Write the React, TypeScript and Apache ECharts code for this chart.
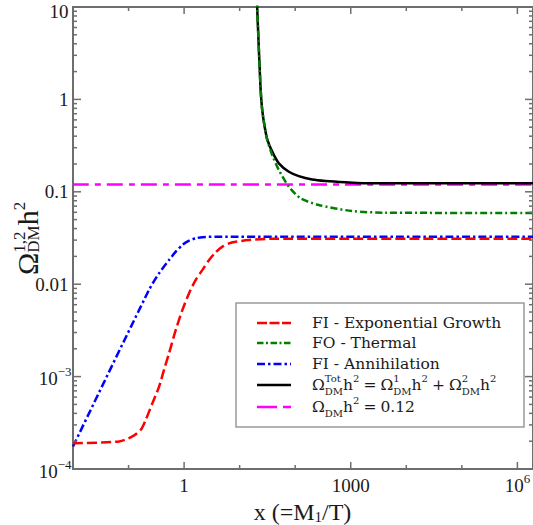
import React, { useEffect, useRef } from "react";
import * as echarts from "echarts";

// ---------------- data ----------------
const redX = [0.01, 0.0678, 0.1175, 0.166, 0.204, 0.269, 0.355, 0.436, 0.537, 0.708, 0.933, 1.23, 1.62, 2.14, 2.82, 3.72, 4.9, 6.44, 8.5, 14.7, 33.9, 2e6];
const redY = [1.9e-4, 1.99e-4, 2.25e-4, 2.66e-4, 3.41e-4, 5.16e-4, 7.8e-4, 1.19e-3, 1.8e-3, 3.2e-3, 5.27e-3, 8.0e-3, 0.01114, 0.0143, 0.0183, 0.0222, 0.0255, 0.0277, 0.0288, 0.0301, 0.031, 0.031];

const blueX = [0.01, 0.234, 0.355, 0.537, 0.708, 0.933, 1.23, 1.62, 2.14, 3.72, 2e6];
const blueY = [1.75e-4, 8.7e-3, 0.01315, 0.0183, 0.0225, 0.0266, 0.0296, 0.0314, 0.0322, 0.0327, 0.0327];

const greenX = [20.3, 20.7, 21.6, 22.2, 22.9, 23.9, 25.5, 28.2, 31.4, 38.6, 50.8, 76.9, 124.7, 266, 1054, 4190, 2e6];
const greenY = [25, 10, 5.18, 3.41, 2.25, 1.26, 0.766, 0.506, 0.363, 0.25, 0.172, 0.1135, 0.085, 0.0719, 0.0619, 0.0594, 0.059];

const blackX = [20.3, 20.7, 21.6, 22.2, 22.9, 23.9, 25.5, 28.2, 31.4, 38.6, 50.8, 76.9, 116, 202, 351, 802, 2415, 2e6];
const blackY = [25, 10, 5.18, 3.41, 2.25, 1.26, 0.766, 0.506, 0.37, 0.272, 0.203, 0.165, 0.148, 0.136, 0.131, 0.127, 0.1236, 0.1236];

const refX = [0.01, 2e6];
const refY = [0.12, 0.12];

const xMin = 0.01;
const xMax = 1.91e6;
const yMin = 1e-4;
const yMax = 10;

const xMajorTicks = [1, 1000, 1e6];
const xMinorTicks = [0.01, 0.1, 10, 100, 1e4, 1e5];
const yMajorTicks = [1e-4, 1e-3, 0.01, 0.1, 1, 10];
const yMinorMantissas = [2, 3, 4, 5, 6, 7, 8, 9];

const xTickValues = [1, 1000, 1e6];
const xTickMain = ["1", "1000", "10"];
const xTickSup = ["", "", "6"];
const yTickValues = [1e-4, 1e-3, 0.01, 0.1, 1, 10];
const yTickMain = ["10", "10", "0.01", "0.1", "1", "10"];
const yTickSup = ["\u22124", "\u22123", "", "", "", ""];

const legendNames = ["FI - Exponential Growth", "FO - Thermal", "FI - Annihilation"];

// ---------------- helpers ----------------
const LIB = '"Liberation Serif"';
const DJV = '"DejaVu Serif"';
const AXIS_COLOR = "#6e6e6e";
const TEXT_COLOR = "#1a1a1a";

let measureCtx: CanvasRenderingContext2D | null = null;
function tw(text: string, size: number, fam: string): number {
  if (!measureCtx) measureCtx = document.createElement("canvas").getContext("2d");
  if (!measureCtx) return text.length * size * 0.5;
  measureCtx.font = `${size}px ${fam}`;
  return measureCtx.measureText(text).width;
}

type Tok = { m?: string; sub?: string; sup?: string; gap?: number };
type Item = { text: string; lx: number; ly: number; size: number };
function mathItems(tokens: Tok[], o: { M: number; S: number; fam: string; subOff: number; supOff: number }) {
  let x = 0;
  const items: Item[] = [];
  for (const t of tokens) {
    if (t.gap) {
      x += t.gap;
      continue;
    }
    if (t.m) {
      items.push({ text: t.m, lx: x, ly: 0, size: o.M });
      x += tw(t.m, o.M, o.fam);
      continue;
    }
    let w = 0;
    if (t.sub) {
      items.push({ text: t.sub, lx: x, ly: o.subOff, size: o.S });
      w = Math.max(w, tw(t.sub, o.S, o.fam));
    }
    if (t.sup) {
      items.push({ text: t.sup, lx: x, ly: o.supOff, size: o.S });
      w = Math.max(w, tw(t.sup, o.S, o.fam));
    }
    x += w;
  }
  return { items, width: x };
}

function placeItems(items: Item[], X0: number, Y0: number, fam: string, rotated: boolean, z = 50) {
  return items.map((it) => ({
    type: "text",
    z,
    silent: true,
    x: rotated ? X0 + it.ly : X0 + it.lx,
    y: rotated ? Y0 - it.lx : Y0 + it.ly,
    rotation: rotated ? Math.PI / 2 : 0,
    style: { text: it.text, fontSize: it.size, fontFamily: fam, fill: TEXT_COLOR, align: "left", verticalAlign: "middle" },
  }));
}

const pts = (xs: number[], ys: number[]) => xs.map((x, i) => [x, ys[i]]);

export default function App() {
  const ref = useRef<HTMLDivElement>(null);

  useEffect(() => {
    if (!ref.current) return;
    const chart = echarts.init(ref.current, null, { renderer: "svg" });

    // tick items: [x, y, kind]  kind 0 x-major, 1 x-minor, 2 y-major, 3 y-minor
    const yMinorTicks: number[] = [];
    yMajorTicks.slice(0, -1).forEach((d) => yMinorMantissas.forEach((m) => yMinorTicks.push(d * m)));
    const tickData = [
      ...xMajorTicks.map((v) => [v, 1, 0]),
      ...xMinorTicks.map((v) => [v, 1, 1]),
      ...yMajorTicks.map((v) => [1, v, 2]),
      ...yMinorTicks.map((v) => [1, v, 3]),
    ];

    const labelDefs = [
      ...xTickValues.map((v, i) => ({ axis: "x", main: xTickMain[i], sup: xTickSup[i], pt: [v, 1] })),
      ...yTickValues.map((v, i) => ({ axis: "y", main: yTickMain[i], sup: yTickSup[i], pt: [1, v] })),
    ];

    const lineSeries = (name: string, xs: number[], ys: number[], color: string, dash: any, z: number) => ({
      name,
      type: "line",
      data: pts(xs, ys),
      showSymbol: false,
      symbol: "none",
      smooth: 0.25,
      silent: true,
      z,
      lineStyle: { color, width: 2.5, type: dash, cap: "butt" },
    });

    // ---- legend (graphic) ----
    const legX = 236;
    const legY = 303;
    const legW = 288;
    const legH = 124;
    const rowY = [323, 343, 364, 385, 407];
    const lineX1 = 257;
    const lineX2 = 291;
    const textX = 312;
    const legColors = ["#ff0000", "#008000", "#0000ff", "#000000", "#ff00ff"];
    const legDash: any[] = [[10, 2.5], [6.5, 2.5, 2, 2.5], [8, 3, 2.5, 3], null, [20, 6, 8, 6]];
    const LM = 15.5;
    const legendEls: any[] = [
      {
        type: "rect",
        z: 40,
        shape: { x: legX, y: legY, width: legW, height: legH },
        style: { fill: "#ffffff", stroke: "#9a9a9a", lineWidth: 1.5 },
        silent: true,
      },
    ];
    rowY.forEach((y, i) => {
      legendEls.push({
        type: "line",
        z: 50,
        shape: { x1: lineX1, y1: y, x2: lineX2, y2: y },
        style: { stroke: legColors[i], lineWidth: 2.5, lineDash: legDash[i] || undefined },
        silent: true,
      });
    });
    legendNames.forEach((n, i) => {
      legendEls.push({
        type: "text",
        z: 50,
        x: textX,
        y: rowY[i],
        silent: true,
        style: { text: n, fontSize: LM, fontFamily: DJV, fill: TEXT_COLOR, align: "left", verticalAlign: "middle" },
      });
    });
    const legMathOpts = { M: LM, S: 10, fam: DJV, subOff: 6, supOff: -6.5 };
    const totRow = mathItems(
      [
        { m: "\u03A9" }, { sup: "Tot", sub: "DM" }, { m: "h" }, { sup: "2" },
        { gap: 4 }, { m: "=" }, { gap: 4 },
        { m: "\u03A9" }, { sup: "1", sub: "DM" }, { m: "h" }, { sup: "2" },
        { gap: 4 }, { m: "+" }, { gap: 4 },
        { m: "\u03A9" }, { sup: "2", sub: "DM" }, { m: "h" }, { sup: "2" },
      ],
      legMathOpts
    );
    legendEls.push(...placeItems(totRow.items, textX, rowY[3], DJV, false));
    const obsRow = mathItems(
      [{ m: "\u03A9" }, { sub: "DM" }, { m: "h" }, { sup: "2" }, { gap: 4 }, { m: "=" }, { gap: 4 }, { m: "0.12" }],
      legMathOpts
    );
    legendEls.push(...placeItems(obsRow.items, textX, rowY[4], DJV, false));

    // ---- axis titles ----
    const xTitle = mathItems(
      [{ m: "x" }, { gap: 6 }, { m: "(=M" }, { sub: "1" }, { m: "/T)" }],
      { M: 24, S: 15, fam: LIB, subOff: 5, supOff: -8 }
    );
    const yTitle = mathItems(
      [{ m: "\u03A9" }, { sup: "1,2", sub: "DM" }, { m: "h" }, { sup: "2" }],
      { M: 30, S: 17, fam: LIB, subOff: 6.5, supOff: -8 }
    );
    const titleEls = [
      ...placeItems(xTitle.items, 302.5 - xTitle.width / 2, 512, LIB, false),
      ...placeItems(yTitle.items, 27, 275, LIB, true),
    ];

    const option: any = {
      animation: false,
      backgroundColor: "#ffffff",
      grid: {
        left: 73,
        top: 7,
        width: 461,
        height: 462,
        show: true,
        borderColor: AXIS_COLOR,
        borderWidth: 2,
        backgroundColor: "transparent",
      },
      xAxis: {
        type: "log",
        logBase: 10,
        min: xMin,
        max: xMax,
        axisLine: { show: false },
        axisTick: { show: false },
        axisLabel: { show: false },
        splitLine: { show: false },
      },
      yAxis: {
        type: "log",
        logBase: 10,
        min: yMin,
        max: yMax,
        axisLine: { show: false },
        axisTick: { show: false },
        axisLabel: { show: false },
        splitLine: { show: false },
      },
      series: [
        lineSeries("\u03A9_DM h\u00B2 = 0.12", refX, refY, "#ff00ff", [16, 6, 6, 6], 2),
        lineSeries("\u03A9^Tot_DM h\u00B2", blackX, blackY, "#000000", "solid", 3),
        lineSeries(legendNames[2], blueX, blueY, "#0000ff", [8, 3, 2.5, 3], 4),
        lineSeries(legendNames[0], redX, redY, "#ff0000", [10, 4], 5),
        lineSeries(legendNames[1], greenX, greenY, "#008000", [7, 3, 2, 3], 6),
        {
          type: "custom",
          silent: true,
          z: 10,
          encode: { x: 0, y: 1 },
          data: tickData,
          renderItem: (params: any, api: any) => {
            const cs = params.coordSys;
            const kind = api.value(2);
            const st = { stroke: AXIS_COLOR, lineWidth: 1.5 };
            if (kind < 2) {
              const p = api.coord([api.value(0), 1]);
              const len = kind === 0 ? 7 : 4;
              const b = cs.y + cs.height;
              return {
                type: "group",
                children: [
                  { type: "line", shape: { x1: p[0], y1: b, x2: p[0], y2: b - len }, style: st },
                  { type: "line", shape: { x1: p[0], y1: cs.y, x2: p[0], y2: cs.y + len }, style: st },
                ],
              };
            }
            const p = api.coord([1, api.value(1)]);
            const len = kind === 2 ? 8 : 4;
            const r = cs.x + cs.width;
            return {
              type: "group",
              children: [
                { type: "line", shape: { x1: cs.x, y1: p[1], x2: cs.x + len, y2: p[1] }, style: st },
                { type: "line", shape: { x1: r, y1: p[1], x2: r - len, y2: p[1] }, style: st },
              ],
            };
          },
        },
        {
          type: "custom",
          silent: true,
          z: 10,
          encode: { x: 0, y: 1 },
          data: labelDefs.map((d) => d.pt),
          renderItem: (params: any, api: any) => {
            const cs = params.coordSys;
            const d = labelDefs[params.dataIndex];
            const M = 19;
            const S = 13;
            const wMain = tw(d.main, M, LIB);
            const wSup = d.sup ? tw(d.sup, S, LIB) : 0;
            const p = api.coord([api.value(0), api.value(1)]);
            let x0: number;
            let yc: number;
            if (d.axis === "x") {
              x0 = p[0] - (wMain + wSup) / 2;
              yc = cs.y + cs.height + 16;
            } else {
              const right = d.sup ? cs.x - 1.5 : cs.x - 4.5;
              x0 = right - wMain - wSup;
              yc = Math.max(p[1] + (d.sup ? 2 : 0), 11);
            }
            const children: any[] = [
              {
                type: "text",
                x: x0,
                y: yc,
                style: { text: d.main, fontSize: M, fontFamily: LIB, fill: TEXT_COLOR, align: "left", verticalAlign: "middle" },
              },
            ];
            if (d.sup) {
              children.push({
                type: "text",
                x: x0 + wMain,
                y: yc - 7,
                style: { text: d.sup, fontSize: S, fontFamily: LIB, fill: TEXT_COLOR, align: "left", verticalAlign: "middle" },
              });
            }
            return { type: "group", children };
          },
        },
      ],
      graphic: {
        elements: [...titleEls, ...legendEls],
      },
    };

    chart.setOption(option);
    return () => chart.dispose();
  }, []);

  return (
    <div
      ref={ref}
      style={{ position: "fixed", left: 0, top: 0, width: 533, height: 525, background: "#ffffff" }}
    />
  );
}
